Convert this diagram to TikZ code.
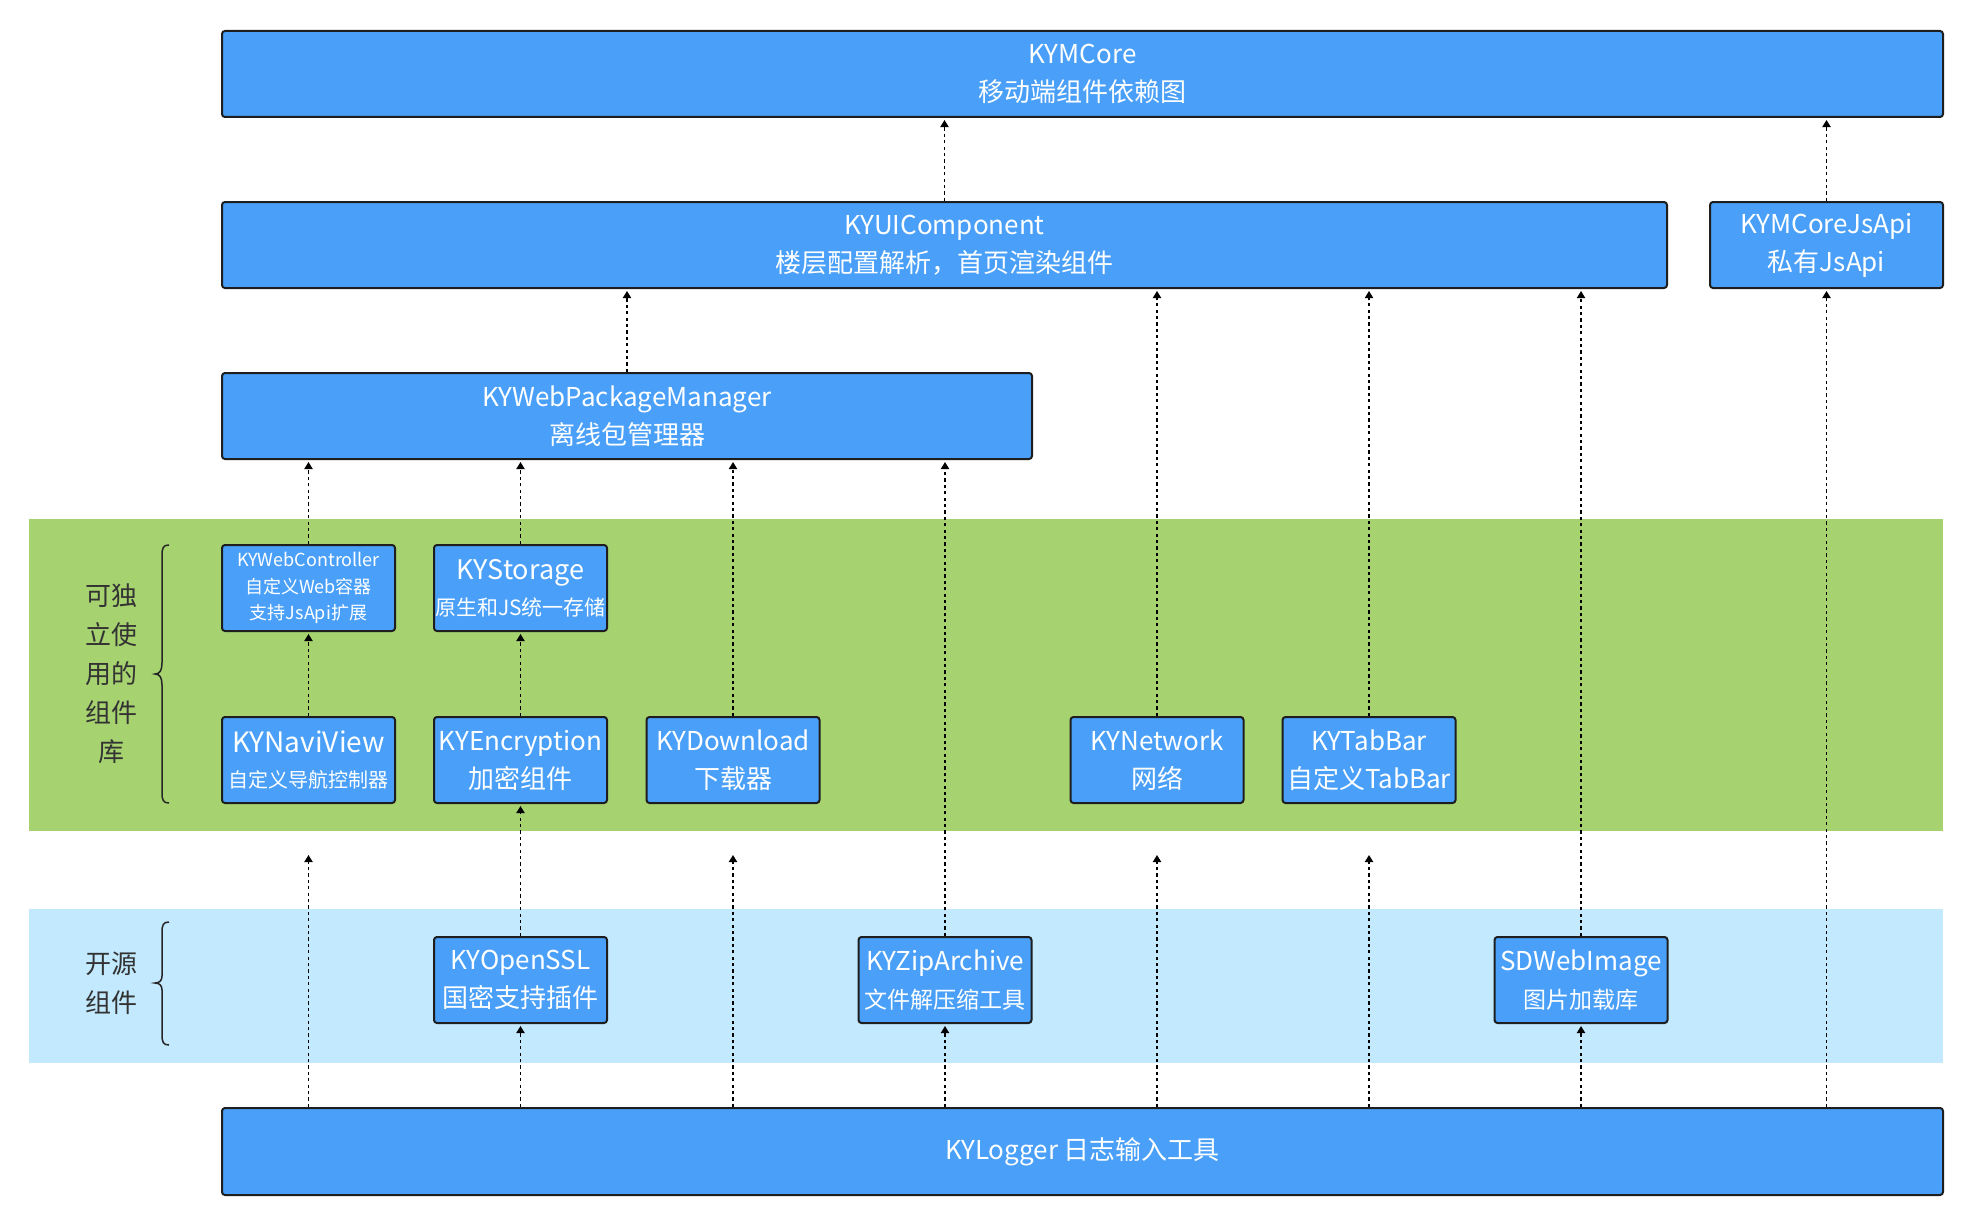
\documentclass[tikz,border=0pt]{standalone}
\usepackage{fontspec}
\setmainfont{Noto Sans CJK SC}
\usetikzlibrary{arrows.meta}
\definecolor{boxblue}{RGB}{74,160,248}
\definecolor{bandgreen}{RGB}{166,210,112}
\definecolor{bandblue}{RGB}{194,233,253}
\definecolor{edgedark}{RGB}{30,30,30}
\tikzset{
  comp/.style={draw=edgedark, line width=1pt, rounded corners=1.5pt, fill=boxblue,
    text=white, align=center, inner sep=0pt, font=\fontsize{13pt}{19pt}\selectfont},
  bigcomp/.style={comp, minimum height=43pt},
  smallcomp/.style={comp, minimum width=86.5pt, minimum height=43pt},
  dep/.style={draw=black, line width=0.75pt, dash pattern=on 1.6pt off 1.6pt,
    -{Triangle[length=3.6pt,width=4.2pt]}, shorten >=1pt},
  grouplabel/.style={text=black!80, align=center, font=\fontsize{13pt}{19.5pt}\selectfont},
  bracestroke/.style={draw=black!85, line width=0.75pt}
}
\begin{document}
\begin{tikzpicture}[x=0.5pt,y=-0.5pt]
\useasboundingbox (0,0) rectangle (1970,1220);
\fill[white] (0,0) rectangle (1970,1220);
% bands
\fill[bandgreen] (29,519) rectangle (1943,831);
\fill[bandblue] (29,909) rectangle (1943,1063);

% top level boxes
\node[bigcomp, minimum width=860.5pt] (core) at (1082.5,74) {KYMCore\\移动端组件依赖图};
\node[bigcomp, minimum width=722.5pt] (ui) at (944.5,245) {KYUIComponent\\楼层配置解析，首页渲染组件};
\node[bigcomp, minimum width=116.5pt] (jsapi) at (1826.5,245) {KYMCoreJsApi\\私有JsApi};
\node[bigcomp, minimum width=405pt] (wpm) at (627,416) {KYWebPackageManager\\离线包管理器};

% green group
\node[smallcomp, font=\fontsize{9pt}{13.25pt}\selectfont] (webctl) at (308.5,588) {KYWebController\\自定义Web容器\\支持JsApi扩展};
\node[smallcomp] (storage) at (520.5,588) {{\fontsize{13.5pt}{16pt}\selectfont KYStorage}\\[-1pt]{\fontsize{10.5pt}{14pt}\selectfont 原生和JS统一存储}};
\node[smallcomp] (navi) at (308.5,760) {{\fontsize{14pt}{16pt}\selectfont KYNaviView}\\[-1.5pt]{\fontsize{10pt}{14pt}\selectfont 自定义导航控制器}};
\node[smallcomp] (enc) at (520.5,760) {KYEncryption\\加密组件};
\node[smallcomp] (down) at (733,760) {KYDownload\\下载器};
\node[smallcomp] (net) at (1157,760) {KYNetwork\\网络};
\node[smallcomp] (tab) at (1369,760) {KYTabBar\\自定义TabBar};

% open source group
\node[smallcomp] (ssl) at (520.5,980) {KYOpenSSL\\国密支持插件};
\node[smallcomp] (zip) at (945,980) {KYZipArchive\\{\fontsize{11.5pt}{14pt}\selectfont 文件解压缩工具}};
\node[smallcomp] (sdw) at (1581,980) {SDWebImage\\{\fontsize{11.5pt}{14pt}\selectfont 图片加载库}};

% logger
\node[bigcomp, minimum width=860.5pt, minimum height=43.5pt] (log) at (1082.5,1151.5) {KYLogger 日志输入工具};

% group labels
\node[grouplabel] (lblA) at (111,674) {可独\\立使\\用的\\组件\\库};
\node[grouplabel] (lblB) at (111,983) {开源\\组件};

% braces
\draw[bracestroke] (169,545) .. controls (163,545) and (162,548) .. (162,556)
  -- (162,663) .. controls (162,670) and (160,674) .. (155,674)
  .. controls (160,674) and (162,678) .. (162,685)
  -- (162,792) .. controls (162,800) and (163,803) .. (169,803);
\draw[bracestroke] (169,922) .. controls (163,922) and (162,925) .. (162,933)
  -- (162,976) .. controls (162,980) and (160,983) .. (155,983)
  .. controls (160,983) and (162,986) .. (162,990)
  -- (162,1034) .. controls (162,1042) and (163,1045) .. (169,1045);

% free arrow ends
\coordinate (endA) at (308.5,853);
\coordinate (endB) at (733,853);
\coordinate (endC) at (1157,853);
\coordinate (endD) at (1369,853);

% dependencies
\draw[dep] (ui.north) -- (ui.north |- core.south);
\draw[dep] (jsapi.north) -- (jsapi.north |- core.south);
\draw[dep] (wpm.north) -- (wpm.north |- ui.south);
\draw[dep] (net.north) -- (net.north |- ui.south);
\draw[dep] (tab.north) -- (tab.north |- ui.south);
\draw[dep] (sdw.north) -- (sdw.north |- ui.south);
\draw[dep] (jsapi |- log.north) -- (jsapi.south);
\draw[dep] (webctl.north) -- (webctl.north |- wpm.south);
\draw[dep] (storage.north) -- (storage.north |- wpm.south);
\draw[dep] (down.north) -- (down.north |- wpm.south);
\draw[dep] (zip.north) -- (zip.north |- wpm.south);
\draw[dep] (navi.north) -- (webctl.south);
\draw[dep] (enc.north) -- (storage.south);
\draw[dep] (ssl.north) -- (enc.south);
\draw[dep] (ssl |- log.north) -- (ssl.south);
\draw[dep] (zip |- log.north) -- (zip.south);
\draw[dep] (sdw |- log.north) -- (sdw.south);
\draw[dep] (endA |- log.north) -- (endA);
\draw[dep] (endB |- log.north) -- (endB);
\draw[dep] (endC |- log.north) -- (endC);
\draw[dep] (endD |- log.north) -- (endD);
\end{tikzpicture}
\end{document}
